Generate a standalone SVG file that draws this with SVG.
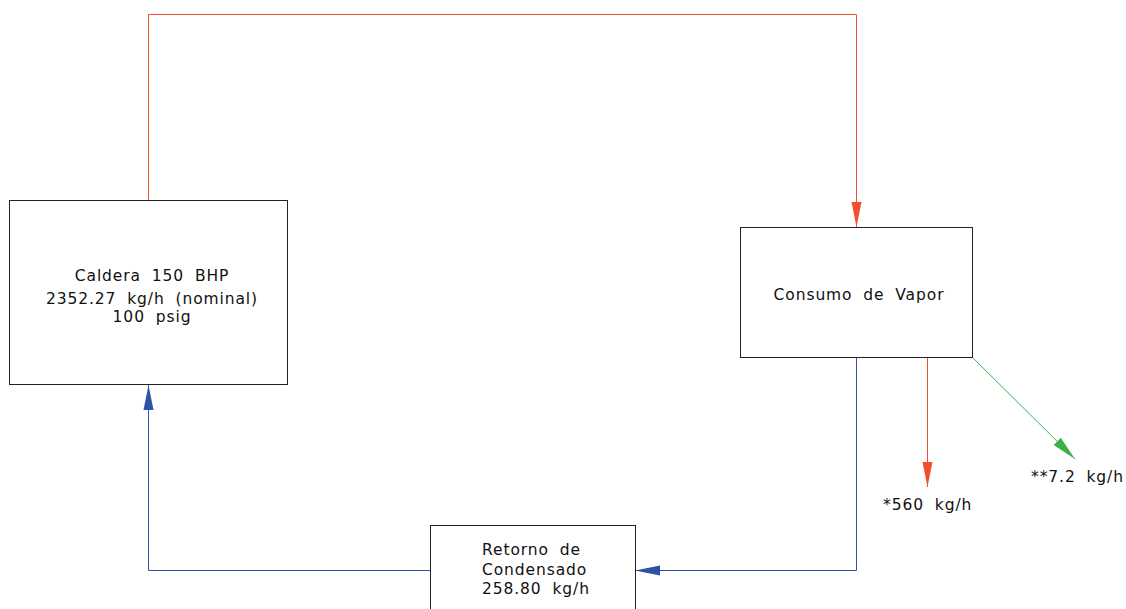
<svg xmlns="http://www.w3.org/2000/svg" width="1126" height="609" viewBox="0 0 1126 609">
  <style>
    .box { fill: #ffffff; stroke: #222222; stroke-width: 1; }
    .lbl { font-family: "DejaVu Sans", "Liberation Sans", sans-serif; font-size: 15.5px; fill: #111111; word-spacing: 5px; letter-spacing: 0.9px; }
    .mid { text-anchor: middle; }
    .red { stroke: #f0502e; stroke-width: 1; fill: none; }
    .blue { stroke: #2e53a6; stroke-width: 1; fill: none; }
    .green { stroke: #3bb04a; stroke-width: 1; fill: none; }
  </style>
  <defs>
    <marker id="headRed" markerUnits="userSpaceOnUse" markerWidth="26" markerHeight="12" refX="25" refY="5" orient="auto" viewBox="0 0 26 10">
      <path d="M0,0 L25,5 L0,10 Z" fill="#f0502e"/>
    </marker>
    <marker id="headBlue" markerUnits="userSpaceOnUse" markerWidth="26" markerHeight="12" refX="25" refY="5" orient="auto" viewBox="0 0 26 10">
      <path d="M0,0 L25,5 L0,10 Z" fill="#2e53a6"/>
    </marker>
    <marker id="headGreen" markerUnits="userSpaceOnUse" markerWidth="26" markerHeight="12" refX="25" refY="5" orient="auto" viewBox="0 0 26 10">
      <path d="M0,0 L25,5 L0,10 Z" fill="#3bb04a"/>
    </marker>
  </defs>

  <rect width="1126" height="609" fill="#ffffff"/>

  <g id="connectors">
    <!-- steam supply: boiler to consumers -->
    <path class="red" d="M148.5,200 V14.5 H856.5 V227" marker-end="url(#headRed)"/>
    <!-- condensate return -->
    <path class="blue" d="M856.5,357 V570.5 H635" marker-end="url(#headBlue)"/>
    <path class="blue" d="M430,570.5 H148.5 V385" marker-end="url(#headBlue)"/>
    <!-- losses -->
    <path class="red" d="M927.5,357 V487" marker-end="url(#headRed)"/>
    <path class="green" d="M972,357 L1075,459" marker-end="url(#headGreen)"/>
  </g>

  <g id="caldera">
    <rect class="box" x="9.5" y="200.5" width="278" height="184"/>
    <text class="lbl mid" x="152" y="281">Caldera 150 BHP</text>
    <text class="lbl mid" x="152" y="304">2352.27 kg/h (nominal)</text>
    <text class="lbl mid" x="152" y="322">100 psig</text>
  </g>

  <g id="consumo">
    <rect class="box" x="740.5" y="227.5" width="232" height="130"/>
    <text class="lbl mid" x="859" y="300">Consumo de Vapor</text>
  </g>

  <g id="retorno">
    <rect class="box" x="430.5" y="525.5" width="205" height="100"/>
    <text class="lbl" x="482" y="555">Retorno de</text>
    <text class="lbl" x="482" y="575">Condensado</text>
    <text class="lbl" x="482" y="594">258.80 kg/h</text>
  </g>

  <g id="perdida-vapor">
    <text class="lbl" x="883" y="510">*560 kg/h</text>
  </g>

  <g id="perdida-purga">
    <text class="lbl" x="1031" y="482">**7.2 kg/h</text>
  </g>
</svg>
